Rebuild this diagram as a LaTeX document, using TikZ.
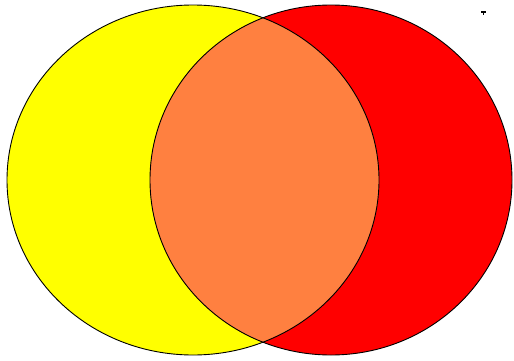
\documentclass[tikz,border=0pt]{standalone}
\begin{document}
\begin{tikzpicture}[x=1pt,y=1pt,
  outline/.style={draw=black,line width=0.9pt}]
\definecolor{vyellow}{RGB}{255,255,0}
\definecolor{vred}{RGB}{255,0,0}
\definecolor{vorange}{RGB}{255,128,64}
\useasboundingbox (0,0) rectangle (514,360);
\fill[white] (0,0) rectangle (514,360);
\coordinate (ya) at (193,180);
\coordinate (rb) at (331,180);
\fill[vyellow] (ya) ellipse [x radius=186, y radius=175];
\fill[vred] (rb) ellipse [x radius=181, y radius=175];
\begin{scope}
  \clip (ya) ellipse [x radius=186, y radius=175];
  \fill[vorange] (rb) ellipse [x radius=181, y radius=175];
\end{scope}
\draw[outline] (ya) ellipse [x radius=186, y radius=175];
\draw[outline] (rb) ellipse [x radius=181, y radius=175];
\fill[black] (481,349) rectangle (486,347.5);
\fill[black] (482.8,347.5) rectangle (484.3,345.5);
\end{tikzpicture}
\end{document}
